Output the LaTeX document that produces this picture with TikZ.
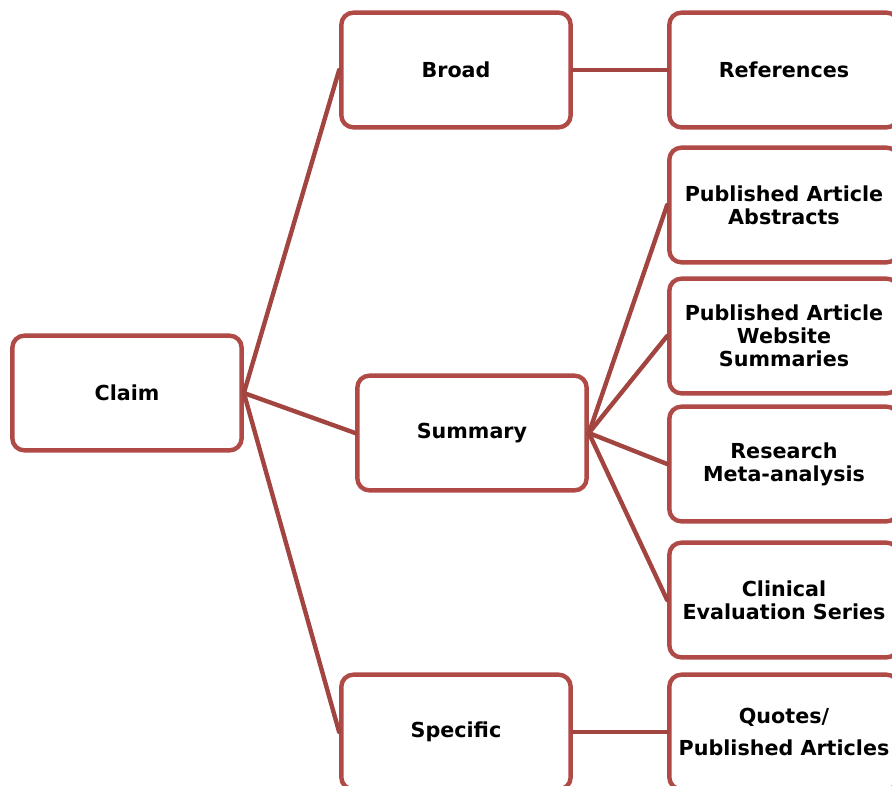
\documentclass[tikz,border=0pt]{standalone}
\usepackage{fontspec}
\setmainfont{DejaVu Sans}
\definecolor{boxred}{RGB}{176,74,70}
\begin{document}
\begin{tikzpicture}[x=.75pt,y=-.75pt,line join=round,line cap=round,
	box/.style={draw=boxred,line width=3.3pt,rounded corners=9pt,fill=white,
		minimum width=172pt,minimum height=86pt,align=center,inner sep=1pt,
		font=\bfseries\fontsize{15.5}{17.3}\selectfont},
	link/.style={draw=boxred!92!black,line width=3.3pt}]
	\clip (0,0) rectangle (892,785); % bounding box as the reference
	% left column
	\node[box] (claim) at (127,393) {Claim};
	% middle column
	\node[box] (broad) at (456,70) {Broad};
	\node[box] (summary) at (472,433) {Summary};
	\node[box] (specific) at (456,732) {Specific};
	% right column
	\node[box] (refs) at (784,70) {References};
	\node[box] (abstracts) at (784,205) {Published Article\\Abstracts};
	\node[box] (website) at (784,336) {Published Article\\Website\\Summaries};
	\node[box] (meta) at (784,464) {Research\\Meta-analysis};
	\node[box] (clinical) at (784,600) {Clinical\\Evaluation Series};
	\node[box,font=\bfseries\fontsize{15.5}{24}\selectfont] (quotes) at (784,732) {Quotes/\\Published Articles};
	% connectors
	\foreach \n in {broad,summary,specific}
		\draw[link] (claim.east) -- (\n.west);
	\draw[link] (broad.east) -- (refs.west);
	\foreach \n in {abstracts,website,meta,clinical}
		\draw[link] (summary.east) -- (\n.west);
	\draw[link] (specific.east) -- (quotes.west);
\end{tikzpicture}
\end{document}
